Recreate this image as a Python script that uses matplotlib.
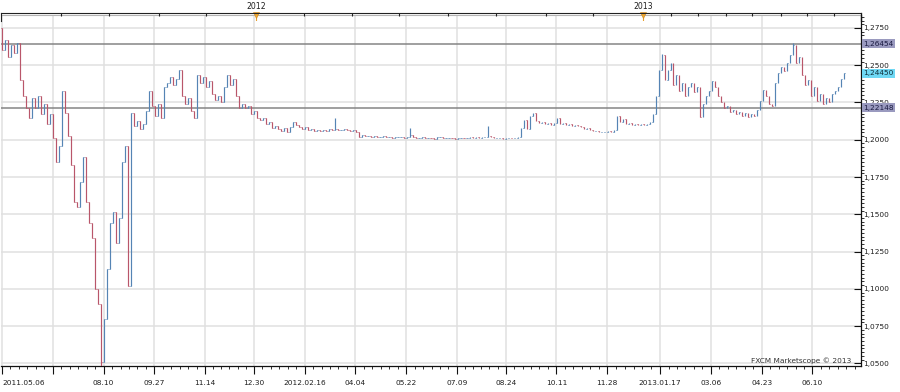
import numpy as np
import pandas as pd
import matplotlib
matplotlib.use("Agg")
import matplotlib.pyplot as plt
import matplotlib.dates as mdates
from matplotlib.ticker import MultipleLocator, FuncFormatter, FixedLocator, FixedFormatter

# --- Data (one close per ~2.8 calendar days) ---
START = "2011-05-06"
BAR_STEP = "68h"
first_open = 1.2753

close_2011 = [
    1.2603, 1.2671, 1.2555, 1.2637, 1.2582, 1.2651, 1.2398, 1.2296, 1.2214, 1.2146,
    1.2282, 1.2214, 1.2296, 1.2173, 1.2241, 1.2105, 1.2173, 1.2010, 1.1853, 1.1955,
    1.2330, 1.2180, 1.2023, 1.1832, 1.1580, 1.1546, 1.1716, 1.1887, 1.1580, 1.1444,
    1.1341, 1.1000, 1.0898, 1.0509, 1.0795, 1.1136, 1.1444, 1.1512, 1.1307, 1.1478,
    1.1853, 1.1955, 1.1021, 1.2180, 1.2092, 1.2125, 1.2071, 1.2105, 1.2194, 1.2330,
]
close_late_2011 = [
    1.2228, 1.2160, 1.2241, 1.2146, 1.2351, 1.2378, 1.2419, 1.2364, 1.2405, 1.2466,
    1.2296, 1.2241, 1.2282, 1.2194, 1.2146, 1.2432, 1.2378, 1.2419, 1.2351, 1.2391,
    1.2310, 1.2269, 1.2296, 1.2255, 1.2351, 1.2432, 1.2364, 1.2405, 1.2296, 1.2214,
    1.2241, 1.2214, 1.2228, 1.2173, 1.2194, 1.2146, 1.2132, 1.2146, 1.2105, 1.2119,
    1.2078, 1.2092, 1.2071, 1.2057, 1.2078, 1.2050, 1.2085, 1.2119, 1.2098, 1.2085,
    1.2071, 1.2085, 1.2064, 1.2071, 1.2057, 1.2064, 1.2057, 1.2064, 1.2057, 1.2071,
    1.2064, 1.2071, 1.2064, 1.2064, 1.2071, 1.2064, 1.2057,
]
close_2012 = [
    1.2064, 1.2050, 1.2016, 1.2030, 1.2023, 1.2023, 1.2016, 1.2023, 1.2016, 1.2016,
    1.2023, 1.2016, 1.2016, 1.2010, 1.2016, 1.2016, 1.2019, 1.2013, 1.2016, 1.2030,
    1.2016, 1.2010, 1.2010, 1.2016, 1.2010, 1.2013, 1.2010, 1.2008, 1.2016, 1.2016,
    1.2010, 1.2010, 1.2013, 1.2010, 1.2008, 1.2010, 1.2012, 1.2010, 1.2010, 1.2016,
    1.2010, 1.2016, 1.2010, 1.2016, 1.2016, 1.2023, 1.2016, 1.2010, 1.2010, 1.2010,
    1.2008, 1.2010, 1.2012, 1.2010, 1.2013, 1.2016, 1.2078, 1.2132, 1.2071, 1.2160,
    1.2180, 1.2125, 1.2112, 1.2119, 1.2105, 1.2112, 1.2098, 1.2112, 1.2146, 1.2105,
    1.2112, 1.2098, 1.2105, 1.2092, 1.2098, 1.2092, 1.2085, 1.2071, 1.2078, 1.2064,
    1.2057, 1.2057, 1.2050, 1.2050, 1.2050, 1.2057, 1.2050, 1.2064, 1.2160, 1.2119,
    1.2139, 1.2105, 1.2112, 1.2098, 1.2105, 1.2098, 1.2105, 1.2098, 1.2105, 1.2119,
]
close_2013 = [
    1.2173, 1.2296, 1.2466, 1.2569, 1.2398, 1.2466, 1.2514, 1.2364, 1.2432, 1.2330,
    1.2378, 1.2296, 1.2351, 1.2378, 1.2323, 1.2351, 1.2153, 1.2241, 1.2296, 1.2330,
    1.2391, 1.2351, 1.2296, 1.2255, 1.2214, 1.2228, 1.2187, 1.2201, 1.2173, 1.2187,
    1.2160, 1.2180, 1.2153, 1.2173, 1.2160, 1.2201, 1.2262, 1.2337, 1.2296, 1.2241,
    1.2228, 1.2378, 1.2446, 1.2487, 1.2460, 1.2514, 1.2569, 1.2637, 1.2514, 1.2555,
    1.2432, 1.2364, 1.2398, 1.2296, 1.2351, 1.2262, 1.2310, 1.2241, 1.2282, 1.2255,
    1.2310, 1.2330, 1.2351, 1.2405, 1.2446,
]

# wicks that stick out beyond open/close
wick_high_idx = [111, 136, 162, 220, 264]
wick_high = [1.2146, 1.2078, 1.2092, 1.2576, 1.2651]
wick_low_idx = [33]
wick_low = [1.0450]

levels = [1.26454, 1.22148]
last_price = 1.24450

tick_dates = ["2011-05-06", "2011-06-23", "2011-08-10", "2011-09-27", "2011-11-14",
              "2011-12-30", "2012-02-16", "2012-04-04", "2012-05-22", "2012-07-09",
              "2012-08-24", "2012-10-11", "2012-11-28", "2013-01-17", "2013-03-06",
              "2013-04-23", "2013-06-10"]
tick_labels = ["", "", "08.10", "09.27", "11.14", "12.30", "2012.02.16", "04.04",
               "05.22", "07.09", "08.24", "10.11", "11.28", "2013.01.17", "03.06",
               "04.23", "06.10"]
first_label = "2011.05.06"

top_tick_dates = ["2011-07-01", "2011-08-15", "2011-10-01", "2011-11-15", "2012-01-01",
                  "2012-02-15", "2012-04-01", "2012-05-15", "2012-07-01", "2012-08-15",
                  "2012-10-01", "2012-11-15", "2013-01-01", "2013-01-27", "2013-02-22",
                  "2013-03-20", "2013-04-14", "2013-05-11", "2013-06-05", "2013-06-30"]
year_dates = ["2012-01-01", "2013-01-01"]
year_labels = ["2012", "2013"]

# --- Build OHLC ---
closes = np.array(close_2011 + close_late_2011 + close_2012 + close_2013)
opens = np.concatenate([[first_open], closes[:-1]])
highs = np.maximum(opens, closes)
lows = np.minimum(opens, closes)
highs[wick_high_idx] = np.maximum(highs[wick_high_idx], wick_high)
lows[wick_low_idx] = np.minimum(lows[wick_low_idx], wick_low)

dates = pd.date_range(START, periods=len(closes), freq=BAR_STEP)
x = mdates.date2num(dates.to_pydatetime())
up = closes >= opens
UP_C, DOWN_C = "#5584b4", "#b9566a"
colors = np.where(up, UP_C, DOWN_C)

FS = 5.3
TXT = "#1e1e1e"
plt.rcParams["font.family"] = ["DejaVu Sans"]

fig = plt.figure(figsize=(9, 3.92), dpi=100)
ax = fig.add_axes([1 / 900, 26.3 / 392, 859.7 / 900, 350.7 / 392])

# bars: high-low line, open tick left, close tick right
half = 0.8
ax.vlines(x, lows, highs, colors=colors, lw=0.85, zorder=3)
ax.hlines(opens, x - half, x, colors=colors, lw=0.7, zorder=3)
ax.hlines(closes, x, x + half, colors=colors, lw=0.7, zorder=3)

for lv in levels:
    ax.axhline(lv, color="#858585", lw=1.1, zorder=2)

xmin = mdates.date2num(pd.Timestamp(START)) - 0.95
xmax = mdates.date2num(pd.Timestamp(START)) + 811.6
ax.set_xlim(xmin, xmax)
ax.set_ylim(1.0484, 1.2837)

# x axis
tick_nums = mdates.date2num(pd.to_datetime(tick_dates).to_pydatetime())
ax.xaxis.set_major_locator(FixedLocator(tick_nums))
ax.xaxis.set_major_formatter(FixedFormatter(tick_labels))
minor = []
for a, b in zip(tick_nums[:-1], tick_nums[1:]):
    minor.extend(np.linspace(a, b, 7)[1:-1])
minor.extend(tick_nums[-1] + (tick_nums[1] - tick_nums[0]) / 6 * np.arange(1, 6))
ax.xaxis.set_minor_locator(FixedLocator(minor))
ax.tick_params(axis="x", which="major", direction="out", length=6, width=0.8,
               pad=4.5, labelsize=FS, labelcolor=TXT, color="#111")
ax.tick_params(axis="x", which="minor", direction="out", length=2.2, width=0.6, color="#111")
ax.text(tick_nums[0], -0.0505, first_label, transform=ax.get_xaxis_transform(),
        ha="left", va="center", fontsize=FS, color=TXT)

# y axis on the right
ax.yaxis.tick_right()
ax.yaxis.set_major_locator(MultipleLocator(0.025))
ax.yaxis.set_minor_locator(MultipleLocator(0.0025))
ax.yaxis.set_major_formatter(FuncFormatter(lambda v, p: f"{v:.4f}".replace(".", ",")))
ax.tick_params(axis="y", which="major", direction="in", length=5, width=0.8,
               pad=2, labelsize=FS, labelcolor=TXT, color="#111")
ax.tick_params(axis="y", which="minor", direction="out", length=1.8, width=0.6, color="#111")

ax.grid(True, which="major", color="#e0e0e0", lw=1.1, zorder=0)
ax.set_axisbelow(True)

ax.spines["left"].set_visible(False)
ax.spines["top"].set_color("#b4b4b4")
ax.spines["right"].set_color("#111")
ax.spines["bottom"].set_color("#111")
ax.spines["right"].set_linewidth(0.9)
ax.spines["bottom"].set_linewidth(0.9)

# price tags on the axis
tag_style = [("#9a9abf", "#1a1a40"), ("#6fd8f4", "#10303a"), ("#9a9abf", "#1a1a40")]
for (val, (fc, tc)) in zip([levels[0], last_price, levels[1]], tag_style):
    ax.text(1.003, val, f"{val:.5f}".replace(".", ","), transform=ax.get_yaxis_transform(),
            ha="left", va="center", fontsize=FS, color=tc, zorder=6, clip_on=False,
            bbox=dict(boxstyle="square,pad=0.18", fc=fc, ec="none"))

ax.text(0.989, 0.004, "FXCM Marketscope \u00a9 2013", transform=ax.transAxes,
        ha="right", va="bottom", fontsize=FS, color="#333")

# top strip with year markers
ax_top = fig.add_axes([1 / 900, 371.3 / 392, 859.7 / 900, 8 / 392])
ax_top.set_xlim(xmin, xmax)
ax_top.set_ylim(0, 1)
ax_top.patch.set_alpha(0)
ax_top.spines["bottom"].set_visible(False)
ax_top.spines["top"].set_color("#222")
ax_top.spines["left"].set_color("#222")
ax_top.spines["right"].set_color("#111")
ax_top.spines["right"].set_linewidth(0.9)
ax_top.set_yticks([])
top_nums = mdates.date2num(pd.to_datetime(top_tick_dates).to_pydatetime())
ax_top.xaxis.set_ticks_position("top")
ax_top.set_xticks(top_nums)
ax_top.set_xticklabels([])
ax_top.tick_params(axis="x", direction="in", length=2.5, width=0.8, color="#222")

year_nums = mdates.date2num(pd.to_datetime(year_dates).to_pydatetime())
for xn, lab in zip(year_nums, year_labels):
    ax_top.vlines(xn, 0, 0.6, color="#e8a030", lw=0.8)
    ax_top.plot([xn], [0.72], marker="v", ms=4, color="#f0a830", mec="#d08a20", mew=0.4,
                clip_on=False)
    ax_top.text(xn, 1.2, lab, ha="center", va="bottom", fontsize=5.6, color=TXT,
                clip_on=False)

fig.savefig("out.png", dpi=100, facecolor="white")
